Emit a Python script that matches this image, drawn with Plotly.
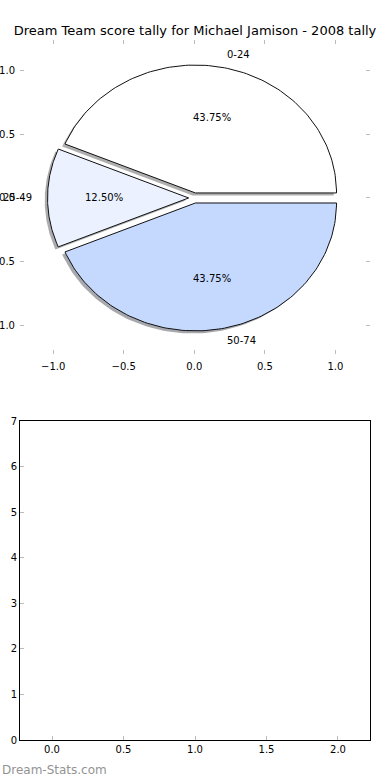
import numpy as np
import plotly.graph_objects as go
from plotly.subplots import make_subplots

# ---- data ----
categories = ["0-24", "25-49", "50-74"]
counts = [7, 2, 7]
colors = ["#FFFFFF", "#EBF1FF", "#C5D9FF"]
explode = [0.04, 0.04, 0.04]
title = "Dream Team score tally for Michael Jamison - 2008 tally"
pie_ticks = [-1.0, -0.5, 0.0, 0.5, 1.0]
bottom_xticks = [0.0, 0.5, 1.0, 1.5, 2.0]
bottom_yticks = [0, 1, 2, 3, 4, 5, 6, 7]

FONT = "DejaVu Sans"
fig = make_subplots(rows=2, cols=1)
fig.update_layout(
    xaxis=dict(domain=[0, 1], anchor="y"),
    yaxis=dict(domain=[0.5514, 1.0], anchor="x"),
    xaxis2=dict(domain=[0, 1], anchor="y2"),
    yaxis2=dict(domain=[0.0, 0.4557], anchor="x2"),
)

total = float(sum(counts))
fracs = [c / total for c in counts]
start = 0.0
wedges = []
for i, f in enumerate(fracs):
    t1, t2 = start, start + f * 360.0
    mid = np.deg2rad((t1 + t2) / 2)
    ox, oy = explode[i] * np.cos(mid), explode[i] * np.sin(mid)
    th = np.deg2rad(np.linspace(t1, t2, 120))
    xs = np.concatenate([[ox], ox + np.cos(th), [ox]])
    ys = np.concatenate([[oy], oy + np.sin(th), [oy]])
    wedges.append((xs, ys, mid, ox, oy, f))
    start = t2

def shadow_color(hexc):
    r, g, b = int(hexc[1:3], 16), int(hexc[3:5], 16), int(hexc[5:7], 16)
    return f"rgba({int(r*0.3)},{int(g*0.3)},{int(b*0.3)},0.45)"

# shadows
for i, (xs, ys, mid, ox, oy, f) in enumerate(wedges):
    fig.add_trace(go.Scatter(x=xs - 0.02, y=ys - 0.02, mode="lines", fill="toself",
                             fillcolor=shadow_color(colors[i]),
                             line=dict(color="rgba(0,0,0,0)", width=0),
                             hoverinfo="skip", showlegend=False), row=1, col=1)
# wedges
for i, (xs, ys, mid, ox, oy, f) in enumerate(wedges):
    fig.add_trace(go.Scatter(x=xs, y=ys, mode="lines", fill="toself",
                             fillcolor=colors[i], line=dict(color="#111111", width=1),
                             hoverinfo="skip", showlegend=False), row=1, col=1)

annotations = []
for i, (xs, ys, mid, ox, oy, f) in enumerate(wedges):
    lx = 1.1 * np.cos(mid) + ox
    ly = 1.1 * np.sin(mid) + oy
    annotations.append(dict(x=lx, y=ly, xref="x", yref="y", text=categories[i],
                            showarrow=False, xanchor="left" if lx > 0 else "right",
                            yanchor="middle", borderpad=0,
                            font=dict(family=FONT, size=10, color="black")))
    px = 0.6 * np.cos(mid) + ox
    py = 0.6 * np.sin(mid) + oy
    annotations.append(dict(x=px, y=py, xref="x", yref="y", text=f"{f*100:.2f}%",
                            showarrow=False, xanchor="center", yanchor="middle",
                            font=dict(family=FONT, size=10, color="black")))

annotations.append(dict(x=0, y=0.0, xref="paper", yref="paper", yshift=-30,
                        text="Dream-Stats.com", showarrow=False, xanchor="left",
                        yanchor="middle", xshift=-20,
                        font=dict(family=FONT, size=12, color="#939393")))

fig.add_trace(go.Scatter(x=[], y=[], showlegend=False), row=2, col=1)

tickfont = dict(family=FONT, size=10, color="black")
fig.update_xaxes(row=1, col=1, range=[-1.235, 1.245], tickvals=pie_ticks,
                 ticktext=[f"{v:.1f}".replace("-", "\u2212") for v in pie_ticks],
                 showgrid=False, zeroline=False, showline=False, ticks="inside",
                 ticklen=4, tickcolor="#bbbbbb", mirror="ticks", tickfont=tickfont,
                 ticklabelstandoff=5)
fig.update_yaxes(row=1, col=1, range=[-1.22, 1.235], tickvals=pie_ticks,
                 ticktext=[f"{v:.1f}".replace("-", "\u2212") for v in pie_ticks],
                 showgrid=False, zeroline=False, showline=False, ticks="inside",
                 ticklen=4, tickcolor="#bbbbbb", mirror="ticks", tickfont=tickfont,
                 ticklabelstandoff=4)
fig.update_xaxes(row=2, col=1, range=[-0.224, 2.224], tickvals=bottom_xticks,
                 ticktext=[f"{v:.1f}" for v in bottom_xticks],
                 showgrid=False, zeroline=False, showline=True, linecolor="black",
                 linewidth=1, mirror=True, ticks="inside", ticklen=4,
                 tickcolor="#bbbbbb", tickfont=tickfont)
fig.update_yaxes(row=2, col=1, range=[0, 7], tickvals=bottom_yticks,
                 showgrid=False, zeroline=False, showline=True, linecolor="black",
                 linewidth=1, mirror=True, ticks="inside", ticklen=4,
                 tickcolor="#bbbbbb", tickfont=tickfont)

fig.update_layout(
    width=390, height=780,
    margin=dict(l=20, r=20, t=40, b=40, autoexpand=False),
    paper_bgcolor="white", plot_bgcolor="white",
    title=dict(text=title, x=0.5, xanchor="center", y=1 - 30 / 780, yanchor="middle",
               font=dict(family=FONT, size=13, color="black")),
    annotations=annotations,
    showlegend=False,
)
fig.write_html("out.html", config={"displayModeBar": False},
               post_script="document.body.style.margin='0';document.body.style.overflow='hidden';")
